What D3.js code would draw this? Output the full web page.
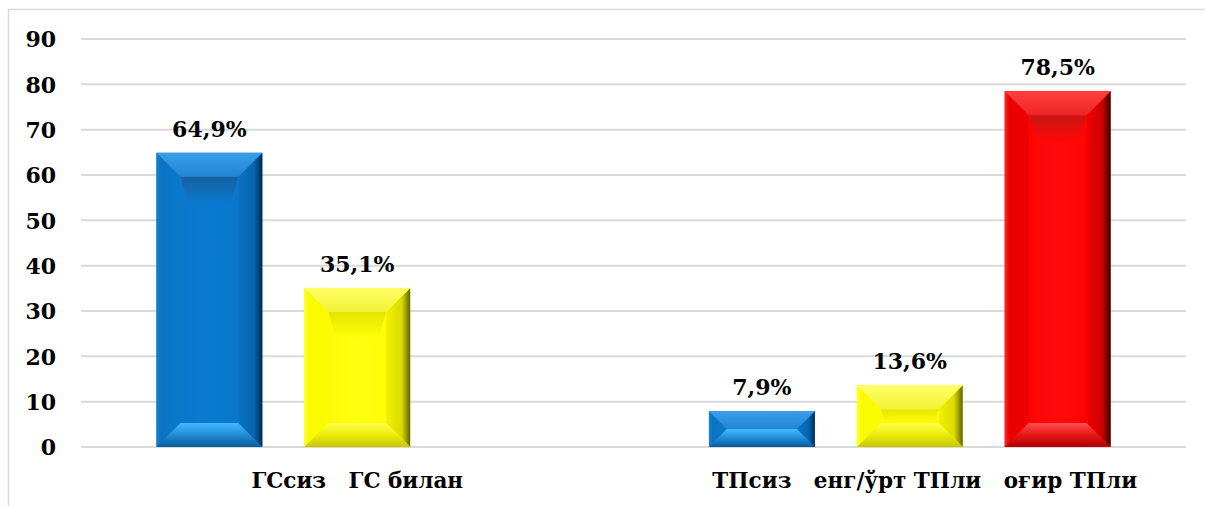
<!DOCTYPE html>
<html>
<head>
<meta charset="utf-8">
<script src="https://d3js.org/d3.v7.min.js"></script>
<style>
  body { margin: 0; background: #fff; }
  svg text { font-family: "DejaVu Serif", "Liberation Serif", serif; font-weight: bold; fill: #000; }
</style>
</head>
<body>
<svg id="chart" width="1205" height="506"></svg>
<script>
// categories (one label per group, as in the original sheet)
var categories = ["ГСсиз   ГС билан", "    ТПсиз   енг/ўрт ТПли   оғир ТПли"];
var seriesNames = ["siz", "engil", "ogir"];
// values per series, one per category (0 = no bar)
var blueValues   = [64.9, 7.9];
var yellowValues = [35.1, 13.6];
var redValues    = [0, 78.5];
var valueLabels  = [["64,9%", "7,9%"], ["35,1%", "13,6%"], ["", "78,5%"]];
var yTicks = [0, 10, 20, 30, 40, 50, 60, 70, 80, 90];

var seriesValues = [blueValues, yellowValues, redValues];

// bevel palettes, stops as [offset, colour]
var palettes = [
  { face: [[0, "#0a74c6"], [0.5, "#0a7ad0"], [1, "#0774c8"]],
    shade: [[0, "#17619f"], [1, "#0a78cc"]],
    top: [[0, "#3a9fea"], [1, "#2283d6"]],
    bottom: [[0, "#42baff"], [0.45, "#2590dc"], [1, "#0a5a9a"]],
    left: [[0, "#1a80cc"], [0.2, "#0a74c4"], [1, "#0a78ca"]],
    right: [[0, "#0a72c2"], [0.65, "#0666ae"], [1, "#002a55"]] },
  { face: [[0, "#f8f800"], [0.5, "#ffff10"], [1, "#fbfb00"]],
    shade: [[0, "#e4e400"], [1, "#ffff08"]],
    top: [[0, "#ffff66"], [1, "#f2f236"]],
    bottom: [[0, "#ffff48"], [0.45, "#eeee10"], [1, "#c6c600"]],
    left: [[0, "#ffff30"], [0.2, "#fafa00"], [1, "#fcfc00"]],
    right: [[0, "#f2f200"], [0.65, "#dada00"], [1, "#626200"]] },
  { face: [[0, "#f80000"], [0.5, "#ff0a0a"], [1, "#fb0000"]],
    shade: [[0, "#c81616"], [1, "#ff0606"]],
    top: [[0, "#ff4040"], [1, "#ee2424"]],
    bottom: [[0, "#ff5050"], [0.45, "#ea1a1a"], [1, "#ae0000"]],
    left: [[0, "#ff2a2a"], [0.2, "#ea0000"], [1, "#f00000"]],
    right: [[0, "#f40000"], [0.65, "#cc0000"], [1, "#3c0000"]] }
];

var width = 1205, height = 506;
var margin = {top: 39, right: 19, bottom: 59, left: 81};

var svg = d3.select("#chart");
var defs = svg.append("defs");

// frame
svg.append("path")
  .attr("d", "M8.5,506 L8.5,9.5 L1205,9.5")
  .attr("fill", "none")
  .attr("stroke", "#d9d9d9")
  .attr("stroke-width", 1.5);

var y = d3.scaleLinear()
  .domain([0, 90])
  .range([height - margin.bottom, margin.top]);

var x0 = d3.scaleBand()
  .domain(d3.range(categories.length))
  .range([margin.left, width - margin.right])
  .paddingInner(0)
  .paddingOuter(0);

var x1 = d3.scaleBand()
  .domain(d3.range(seriesNames.length))
  .range([0, x0.bandwidth()])
  .paddingInner(0.284)
  .paddingOuter(0.51);

// gridlines
svg.append("g")
  .selectAll("line")
  .data(yTicks)
  .join("line")
  .attr("x1", margin.left)
  .attr("x2", width - margin.right)
  .attr("y1", function (d) { return y(d); })
  .attr("y2", function (d) { return y(d); })
  .attr("stroke", "#d9d9d9")
  .attr("stroke-width", 2);

// y axis labels
var yAxis = svg.append("g")
  .attr("transform", "translate(" + (margin.left - 25) + ",0)")
  .call(d3.axisLeft(y).tickValues(yTicks).tickSize(0).tickPadding(0));
yAxis.select(".domain").remove();
yAxis.selectAll("text")
  .attr("font-size", 22)
  .attr("dy", "0.36em")
  .style("font-family", '"DejaVu Serif", serif')
  .style("font-weight", "bold");

// gradients
palettes.forEach(function (p, i) {
  function grad(id, stops, vertical) {
    var g = defs.append("linearGradient").attr("id", id)
      .attr("x1", 0).attr("y1", 0)
      .attr("x2", vertical ? 0 : 1).attr("y2", vertical ? 1 : 0);
    stops.forEach(function (s) {
      g.append("stop").attr("offset", s[0]).attr("stop-color", s[1]);
    });
  }
  grad("top" + i, p.top, true);
  grad("bot" + i, p.bottom, true);
  grad("left" + i, p.left, false);
  grad("right" + i, p.right, false);
  grad("face" + i, p.face, false);
  grad("shade" + i, p.shade, true);
});

function bevelBar(g, xa, ya, w, h, si) {
  var xb = xa + w, yb = ya + h;
  var b = Math.min(24, h / 2, w / 2);
  var pts = function (a) { return a.map(function (p) { return p.join(","); }).join(" "); };
  g.append("rect").attr("x", xa).attr("y", ya).attr("width", w).attr("height", h)
    .attr("fill", "url(#face" + si + ")");
  // soft shadow just under the top bevel
  var sh = Math.max(0, Math.min(26, h - 2 * b));
  if (sh > 0) {
    g.append("polygon")
      .attr("points", pts([[xa + b, ya + b], [xb - b, ya + b], [xb - b - sh * 0.3, ya + b + sh], [xa + b + sh * 0.3, ya + b + sh]]))
      .attr("fill", "url(#shade" + si + ")");
  }
  g.append("polygon").attr("points", pts([[xa, ya], [xa + b, ya + b], [xa + b, yb - b], [xa, yb]]))
    .attr("fill", "url(#left" + si + ")");
  g.append("polygon").attr("points", pts([[xb, ya], [xb - b, ya + b], [xb - b, yb - b], [xb, yb]]))
    .attr("fill", "url(#right" + si + ")");
  g.append("polygon").attr("points", pts([[xa, ya], [xb, ya], [xb - b, ya + b], [xa + b, ya + b]]))
    .attr("fill", "url(#top" + si + ")");
  g.append("polygon").attr("points", pts([[xa + b, yb - b], [xb - b, yb - b], [xb, yb], [xa, yb]]))
    .attr("fill", "url(#bot" + si + ")");
}

// bars
var bars = svg.append("g");
seriesValues.forEach(function (vals, si) {
  vals.forEach(function (v, ci) {
    if (!v) return;
    var xa = x0(ci) + x1(si);
    var g = bars.append("g");
    bevelBar(g, xa, y(v), x1.bandwidth(), y(0) - y(v), si);
    svg.append("text")
      .attr("x", xa + x1.bandwidth() / 2)
      .attr("y", y(v) - 16)
      .attr("text-anchor", "middle")
      .attr("font-size", 22)
      .text(valueLabels[si][ci]);
  });
});

// category labels
svg.append("g")
  .selectAll("text")
  .data(categories)
  .join("text")
  .attr("x", function (d, i) { return x0(i) + x0.bandwidth() / 2; })
  .attr("y", height - 18)
  .attr("text-anchor", "middle")
  .attr("font-size", 21.5)
  .style("white-space", "pre")
  .text(function (d) { return d; });
</script>
</body>
</html>
